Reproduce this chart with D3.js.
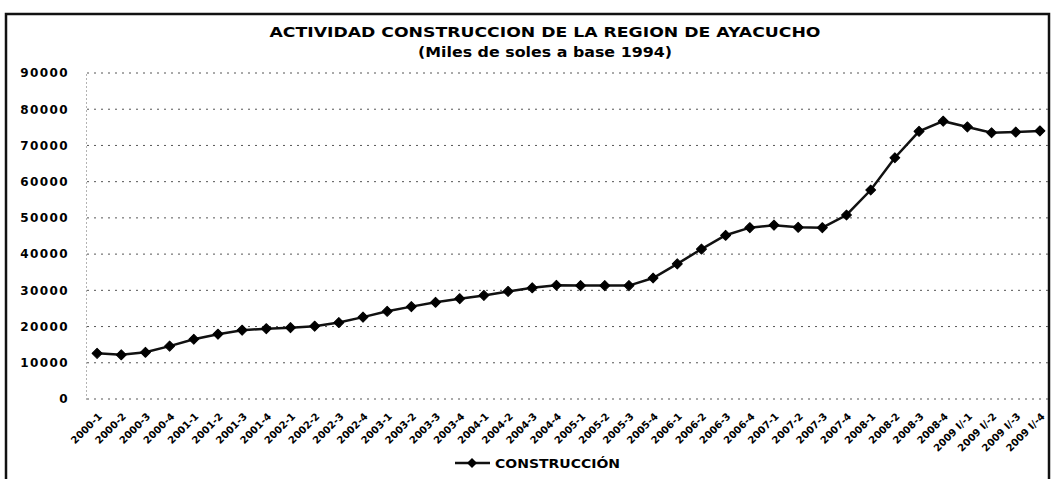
<!DOCTYPE html>
<html>
<head>
<meta charset="utf-8">
<script src="https://cdn.jsdelivr.net/npm/d3@7"></script>
<style>
  body { margin: 0; background: #fff; }
  svg { display: block; }
</style>
</head>
<body>
<div id="chart"></div>
<script>
// quarters 2000-1 ... 2008-4, then the 2009 estimates
var quarters = [
    "2000-1", "2000-2", "2000-3", "2000-4",
    "2001-1", "2001-2", "2001-3", "2001-4",
    "2002-1", "2002-2", "2002-3", "2002-4",
    "2003-1", "2003-2", "2003-3", "2003-4",
    "2004-1", "2004-2", "2004-3", "2004-4",
    "2005-1", "2005-2", "2005-3", "2005-4",
    "2006-1", "2006-2", "2006-3", "2006-4",
    "2007-1", "2007-2", "2007-3", "2007-4",
    "2008-1", "2008-2", "2008-3", "2008-4",
    "2009 I/-1", "2009 I/-2", "2009 I/-3", "2009 I/-4"
];

// construccion, miles de soles a base 1994
var construccion = [
    12600, 12200, 12900, 14600,
    16500, 17900, 19000, 19400,
    19700, 20100, 21100, 22600,
    24200, 25500, 26700, 27700,
    28600, 29700, 30700, 31400,
    31300, 31300, 31300, 33400,
    37300, 41400, 45200, 47300,
    48000, 47400, 47300, 50800,
    57700, 66600, 73900, 76700,
    75100, 73500, 73700, 74000
];

var yTicks = [0, 10000, 20000, 30000, 40000, 50000, 60000, 70000, 80000, 90000];

var chartTitle = "ACTIVIDAD CONSTRUCCION DE LA REGION DE AYACUCHO";
var chartSubtitle = "(Miles de soles a base 1994)";
var seriesName = "CONSTRUCCIÓN";

var W = 1055, H = 479;
// note: "top" is taken by window.top, so plot edges get a prefix
var plotL = 85, plotR = 1052, plotT = 73, plotB = 399;

var svg = d3.select("#chart").append("svg")
    .attr("width", W)
    .attr("height", H);

var data = quarters.map(function(q, i) { return {q: q, v: construccion[i]}; });

var x = d3.scalePoint().domain(quarters).range([plotL, plotR]).padding(0.5);
var y = d3.scaleLinear().domain([0, 90000]).range([plotB, plotT]);

// outer frame
svg.append("rect")
    .attr("x", 6).attr("y", 14)
    .attr("width", 1043).attr("height", 475)
    .attr("fill", "none")
    .attr("stroke", "#111")
    .attr("stroke-width", 2.5);

// titles
svg.append("text")
    .attr("x", 545).attr("y", 37)
    .attr("text-anchor", "middle")
    .attr("font-family", "DejaVu Sans")
    .attr("font-weight", "bold")
    .attr("font-size", 14)
    .attr("textLength", 551)
    .attr("lengthAdjust", "spacingAndGlyphs")
    .text(chartTitle);

svg.append("text")
    .attr("x", 545).attr("y", 57)
    .attr("text-anchor", "middle")
    .attr("font-family", "DejaVu Sans")
    .attr("font-weight", "bold")
    .attr("font-size", 14)
    .attr("textLength", 254)
    .attr("lengthAdjust", "spacingAndGlyphs")
    .text(chartSubtitle);

// dotted gridlines
svg.append("g").selectAll("line")
    .data(yTicks)
    .enter().append("line")
    .attr("x1", plotL + 2).attr("x2", 1048)
    .attr("y1", function(d) { return y(d); })
    .attr("y2", function(d) { return y(d); })
    .attr("stroke", "#555")
    .attr("stroke-width", 1)
    .attr("stroke-dasharray", "2,5");

// y axis (dotted line + bold labels)
var yAxis = d3.axisLeft(y).tickValues(yTicks).tickSize(0).tickPadding(17)
    .tickFormat(d3.format("d"));
var gy = svg.append("g")
    .attr("transform", "translate(" + (plotL + 1) + ",0)")
    .call(yAxis);
gy.select(".domain")
    .attr("stroke", "#666")
    .attr("stroke-dasharray", "1,3");
gy.selectAll("text")
    .attr("font-family", "DejaVu Sans")
    .attr("font-weight", "bold")
    .attr("font-size", 12)
    .attr("letter-spacing", 1.4)
    .attr("fill", "#000");

// x labels, rotated
var xAxis = d3.axisBottom(x).tickSize(0).tickPadding(0);
var gx = svg.append("g")
    .attr("transform", "translate(0," + plotB + ")")
    .call(xAxis);
gx.select(".domain").remove();
gx.selectAll("text")
    .attr("font-family", "DejaVu Sans")
    .attr("font-weight", "bold")
    .attr("font-size", 10)
    .attr("fill", "#000")
    .attr("text-anchor", "end")
    .attr("dy", 0)
    .attr("y", 0)
    .attr("transform", "translate(5,18) rotate(-45)");

// the line
var line = d3.line()
    .x(function(d) { return x(d.q); })
    .y(function(d) { return y(d.v); });

svg.append("path")
    .datum(data)
    .attr("d", line)
    .attr("fill", "none")
    .attr("stroke", "#111")
    .attr("stroke-width", 2.5);

// square turned 45 degrees = even diamond like Excel's marker
var marker = d3.symbol().type(d3.symbolSquare).size(50);

svg.append("g").selectAll("path")
    .data(data)
    .enter().append("path")
    .attr("d", marker)
    .attr("transform", function(d) {
        return "translate(" + x(d.q) + "," + y(d.v) + ") rotate(45)";
    })
    .attr("fill", "#000")
    .attr("stroke", "#000")
    .attr("stroke-width", 1)
    .attr("stroke-linejoin", "round");

// legend
var lg = svg.append("g").attr("transform", "translate(0,463)");
lg.append("line")
    .attr("x1", 455).attr("x2", 490)
    .attr("stroke", "#111").attr("stroke-width", 2.5);
lg.append("path")
    .attr("d", marker)
    .attr("transform", "translate(472,0) rotate(45)")
    .attr("fill", "#000");
lg.append("text")
    .attr("x", 495).attr("y", 5)
    .attr("font-family", "DejaVu Sans")
    .attr("font-weight", "bold")
    .attr("font-size", 13)
    .attr("textLength", 125)
    .attr("lengthAdjust", "spacingAndGlyphs")
    .text(seriesName);
</script>
</body>
</html>
